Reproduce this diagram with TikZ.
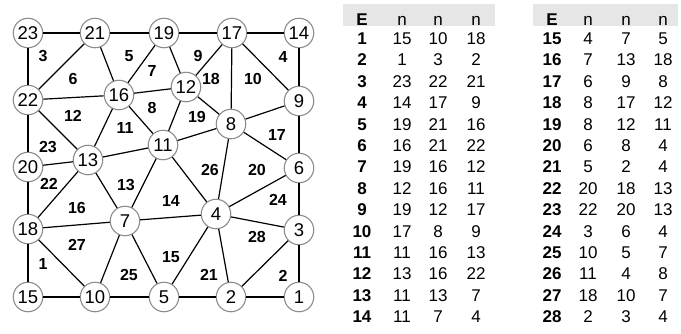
\documentclass[tikz,border=0pt]{standalone}
\usepackage{fontspec}
\setmainfont{Liberation Sans}
\definecolor{nodegray}{HTML}{8C8C8C}
\definecolor{headgray}{HTML}{E6E6E6}
\begin{document}
\begin{tikzpicture}[x=1pt,y=-1pt,
  nd/.style={circle,draw=nodegray,line width=1.1pt,fill=white,minimum size=29.5pt,inner sep=0pt,font=\fontsize{18.5}{20}\selectfont},
  el/.style={font=\fontsize{16}{18}\selectfont\bfseries},
  edge/.style={line width=1.2pt},
  tb/.style={anchor=base,inner sep=0pt,font=\fontsize{17}{19}\selectfont},
  tbb/.style={anchor=base,inner sep=0pt,font=\fontsize{17}{19}\selectfont\bfseries}]
\useasboundingbox (0,0) rectangle (681,333);
% mesh nodes
\foreach \n/\x/\y in {1/299/297,2/231/297,3/299/230,4/216/214,5/164/297,6/299/168,
  7/125/221,8/231/124,9/299/101,10/95/297,11/163/145,12/186/87,13/88/160,
  14/299/33,15/28/297,16/119/95,17/232/33,18/28/229,19/164/33,20/28/167,
  21/95/33,22/28/100,23/28/33}
  \node[nd] (n\n) at (\x,\y) {\n};
% edges
\foreach \a/\b in {15/10,10/18,18/15,1/3,3/2,2/1,23/22,22/21,21/23,14/17,17/9,9/14,
  19/21,21/16,16/19,16/22,16/12,12/19,12/11,11/16,12/17,17/19,17/8,8/9,
  16/13,13/11,13/22,13/7,7/11,7/4,4/11,7/5,5/4,13/18,18/7,6/9,8/6,8/12,8/11,
  8/4,4/6,5/2,2/4,20/18,20/13,22/20,3/6,3/4,10/5,10/7}
  \draw[edge] (n\a) -- (n\b);
% element labels
\foreach \e/\x/\y in {1/43/264,2/283/276,3/43/56,4/283/57,5/129/56,6/73/79,7/152/71,
  8/152/108,9/198/56,10/253/79,11/125/128,12/73/116,13/126/185,14/171/201,
  15/171/257,16/77/208,17/277/135,18/211/79,19/197/117,20/257/170,21/209/275,
  22/49/184,23/48/147,24/278/200,25/129/275,26/210/170,27/77/245,28/257/237}
  \node[el] (e\e) at (\x,\y) {\e};
% tables
\fill[headgray] (343,4) rectangle (495,26);
\fill[headgray] (533,4) rectangle (678,26);
\node[tbb] (hA0) at (362,25) {E};
\node[tb] (hA1) at (402,25) {n};
\node[tb] (hA2) at (438,25) {n};
\node[tb] (hA3) at (476,25) {n};
\node[tbb] (hB0) at (552,25) {E};
\node[tb] (hB1) at (588,25) {n};
\node[tb] (hB2) at (626,25) {n};
\node[tb] (hB3) at (663,25) {n};
\foreach [count=\i] \e/\a/\b/\c in {1/15/10/18,2/1/3/2,3/23/22/21,4/14/17/9,5/19/21/16,
  6/16/21/22,7/19/16/12,8/12/16/11,9/19/12/17,10/17/8/9,11/11/16/13,12/13/16/22,
  13/11/13/7,14/11/7/4}{
  \pgfmathsetmacro\yy{44.5+21.4*(\i-1)}
  \node[tbb] (ta\i e) at (362,\yy) {\e};
  \node[tb] (ta\i a) at (402,\yy) {\a};
  \node[tb] (ta\i b) at (438,\yy) {\b};
  \node[tb] (ta\i c) at (476,\yy) {\c};
}
\foreach [count=\i] \e/\a/\b/\c in {15/4/7/5,16/7/13/18,17/6/9/8,18/8/17/12,19/8/12/11,
  20/6/8/4,21/5/2/4,22/20/18/13,23/22/20/13,24/3/6/4,25/10/5/7,26/11/4/8,
  27/18/10/7,28/2/3/4}{
  \pgfmathsetmacro\yy{44.5+21.4*(\i-1)}
  \node[tbb] (tb\i e) at (552,\yy) {\e};
  \node[tb] (tb\i a) at (588,\yy) {\a};
  \node[tb] (tb\i b) at (626,\yy) {\b};
  \node[tb] (tb\i c) at (663,\yy) {\c};
}
\end{tikzpicture}
\end{document}
